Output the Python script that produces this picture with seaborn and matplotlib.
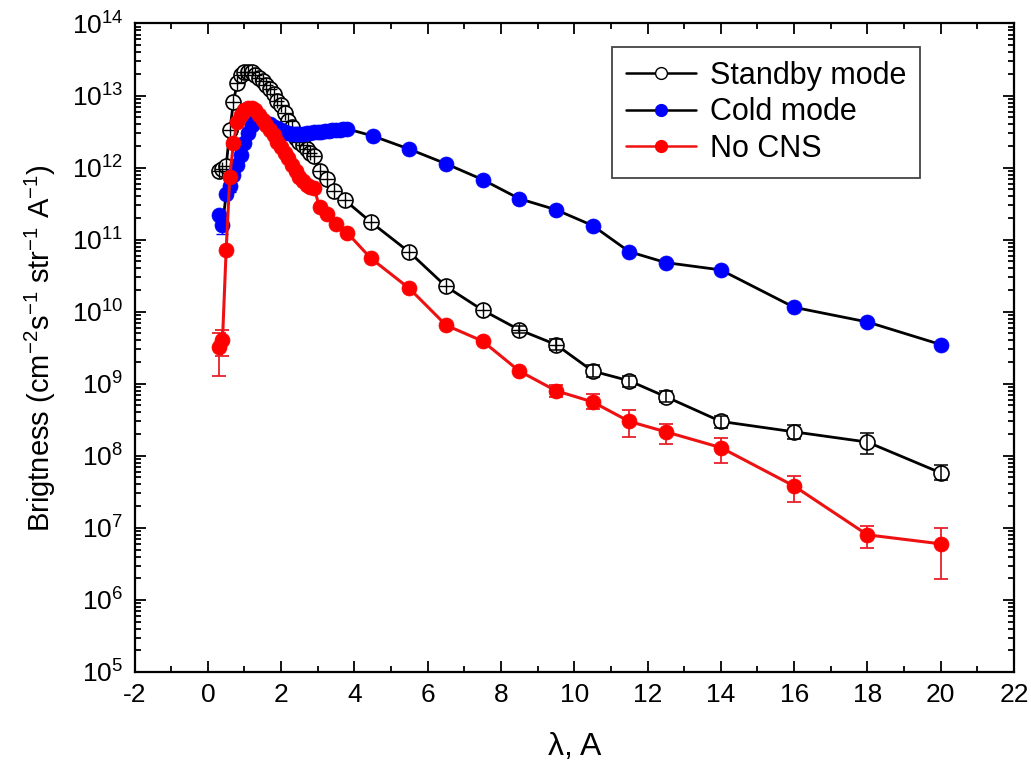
import numpy as np
import pandas as pd
import matplotlib
matplotlib.use("Agg")
import matplotlib.pyplot as plt
import seaborn as sns
from matplotlib.ticker import LogLocator, MultipleLocator, NullFormatter
from matplotlib.lines import Line2D

# ---------------- data ----------------
standby_x = [0.3, 0.4, 0.5, 0.6, 0.7, 0.8, 0.9, 1.0, 1.1, 1.2, 1.3, 1.4, 1.5, 1.6, 1.7,
             1.8, 1.9, 2.0, 2.1, 2.2, 2.3, 2.4, 2.5, 2.6, 2.7, 2.8, 2.9,
             3.05, 3.25, 3.45, 3.75, 4.45, 5.5, 6.5, 7.5, 8.5, 9.5, 10.5, 11.5, 12.5,
             14, 16, 18, 20]
standby_y = [9.1e11, 9.5e11, 1.05e12, 3.3e12, 8.2e12, 1.5e13, 1.9e13, 2.1e13, 2.15e13, 2.1e13,
             1.95e13, 1.75e13, 1.6e13, 1.4e13, 1.25e13, 1.05e13, 8.5e12, 7.3e12, 5.8e12, 4.5e12,
             3.6e12, 2.6e12, 2.3e12, 2.05e12, 1.8e12, 1.6e12, 1.45e12,
             9.1e11, 6.9e11, 4.8e11, 3.5e11, 1.75e11, 6.7e10, 2.24e10, 1.05e10, 5.6e9, 3.5e9,
             1.5e9, 1.1e9, 6.6e8, 3.0e8, 2.15e8, 1.55e8, 5.8e7]
standby_err_x = [8.5, 9.5, 10.5, 11.5, 12.5, 14, 16, 18, 20]
standby_err_y = [5.6e9, 3.5e9, 1.5e9, 1.1e9, 6.6e8, 3.0e8, 2.15e8, 1.55e8, 5.8e7]
standby_err_lo = [5.0e9, 2.9e9, 1.25e9, 0.9e9, 5.5e8, 2.45e8, 1.7e8, 1.05e8, 4.6e7]
standby_err_hi = [6.3e9, 4.2e9, 1.8e9, 1.3e9, 7.9e8, 3.6e8, 2.7e8, 2.05e8, 7.4e7]

cold_x = [0.3, 0.4, 0.5, 0.6, 0.7, 0.8, 0.9, 1.0, 1.1, 1.2, 1.3, 1.4, 1.5, 1.6, 1.7,
          1.8, 1.9, 2.0, 2.1, 2.2, 2.3, 2.4, 2.5, 2.6, 2.7, 2.8, 2.9, 3.0, 3.1, 3.2,
          3.3, 3.4, 3.5, 3.6, 3.7, 3.8, 4.5, 5.5, 6.5, 7.5, 8.5, 9.5, 10.5, 11.5, 12.5,
          14, 16, 18, 20]
cold_y = [2.2e11, 1.6e11, 4.3e11, 5.6e11, 8.0e11, 1.1e12, 1.5e12, 2.2e12, 3.0e12, 3.9e12,
          4.4e12, 4.5e12, 4.4e12, 4.2e12, 4.0e12, 3.7e12, 3.5e12, 3.3e12, 3.1e12, 3.0e12,
          2.95e12, 2.9e12, 2.9e12, 2.95e12, 3.0e12, 3.05e12, 3.1e12, 3.1e12, 3.15e12, 3.2e12,
          3.25e12, 3.3e12, 3.3e12, 3.35e12, 3.4e12, 3.45e12, 2.75e12, 1.8e12, 1.13e12, 6.8e11,
          3.7e11, 2.6e11, 1.57e11, 6.8e10, 4.8e10, 3.8e10, 1.15e10, 7.2e9, 3.5e9]
cold_err_x = [0.4, 0.6]
cold_err_y = [1.6e11, 5.6e11]
cold_err_lo = [1.2e11, 4.6e11]
cold_err_hi = [2.2e11, 6.6e11]

nocns_x = [0.3, 0.4, 0.5, 0.6, 0.7, 0.8, 0.9, 1.0, 1.1, 1.2, 1.3, 1.4, 1.5, 1.6, 1.7,
           1.8, 1.9, 2.0, 2.1, 2.2, 2.3, 2.4, 2.5, 2.6, 2.7, 2.8, 2.9,
           3.05, 3.25, 3.5, 3.8, 4.45, 5.5, 6.5, 7.5, 8.5, 9.5, 10.5, 11.5, 12.5,
           14, 16, 18, 20]
nocns_y = [3.2e9, 4.0e9, 7.2e10, 7.5e11, 2.2e12, 4.3e12, 5.4e12, 6.2e12, 6.8e12, 6.8e12,
           6.2e12, 5.4e12, 4.6e12, 3.9e12, 3.3e12, 2.8e12, 2.3e12, 1.9e12, 1.6e12, 1.35e12,
           1.1e12, 9.0e11, 7.5e11, 6.5e11, 5.8e11, 5.4e11, 5.2e11,
           2.8e11, 2.3e11, 1.65e11, 1.25e11, 5.5e10, 2.1e10, 6.5e9, 3.9e9, 1.5e9, 8.0e8,
           5.6e8, 3.0e8, 2.15e8, 1.3e8, 3.8e7, 8.0e6, 6.0e6]
nocns_err_x = [0.3, 0.4, 9.5, 10.5, 11.5, 12.5, 14, 16, 18, 20]
nocns_err_y = [3.2e9, 4.0e9, 8.0e8, 5.6e8, 3.0e8, 2.15e8, 1.3e8, 3.8e7, 8.0e6, 6.0e6]
nocns_err_lo = [1.3e9, 2.4e9, 6.6e8, 4.4e8, 1.8e8, 1.45e8, 8.0e7, 2.3e7, 5.3e6, 1.95e6]
nocns_err_hi = [5.0e9, 5.6e9, 9.6e8, 7.2e8, 4.3e8, 2.8e8, 1.75e8, 5.3e7, 1.05e7, 1.0e7]

series_names = ["Standby mode", "Cold mode", "No CNS"]
x_ticks = list(range(-2, 23, 2))

# ---------------- style ----------------
sns.set_theme(style="ticks")
plt.rcParams["font.family"] = ["Liberation Sans Narrow", "Liberation Sans", "DejaVu Sans"]
plt.rcParams["mathtext.fontset"] = "custom"
plt.rcParams["mathtext.rm"] = "Liberation Sans"
plt.rcParams["mathtext.it"] = "Liberation Sans:italic"
for k in ["text.color", "axes.labelcolor", "xtick.color", "ytick.color", "axes.edgecolor"]:
    plt.rcParams[k] = "black"

fig = plt.figure(figsize=(10.31, 7.67), dpi=100)
ax = fig.add_axes([0.1305, 0.1239, 0.853, 0.8455])

df_sb = pd.DataFrame({"x": standby_x, "y": standby_y})
df_cold = pd.DataFrame({"x": cold_x, "y": cold_y})
df_no = pd.DataFrame({"x": nocns_x, "y": nocns_y})

ms = 10.8
# Standby mode: open circles, black line
sns.lineplot(data=df_sb, x="x", y="y", ax=ax, color="black", lw=2.0, marker="o",
             markersize=ms, markerfacecolor="white", markeredgecolor="black",
             markeredgewidth=1.2, estimator=None, sort=False, zorder=2, legend=False)
# cross inside the circles (tiny error bars)
small = df_sb[df_sb["x"] <= 9.5]
ax.scatter(small["x"], small["y"], marker="+", s=ms ** 2 * 0.95, color="black",
           linewidths=1.0, zorder=2.6)
ax.errorbar(standby_err_x, standby_err_y,
            yerr=[np.array(standby_err_y) - np.array(standby_err_lo),
                  np.array(standby_err_hi) - np.array(standby_err_y)],
            fmt="none", ecolor="black", elinewidth=1.1, capsize=4.7, capthick=1.1, zorder=2.7)

# Cold mode: blue markers, black line
ax.errorbar(cold_err_x, cold_err_y,
            yerr=[np.array(cold_err_y) - np.array(cold_err_lo),
                  np.array(cold_err_hi) - np.array(cold_err_y)],
            fmt="none", ecolor="blue", elinewidth=1.0, capsize=4.0, capthick=1.0, zorder=2.8)
sns.lineplot(data=df_cold, x="x", y="y", ax=ax, color="black", lw=2.0, marker="o",
             markersize=ms, markerfacecolor="blue", markeredgecolor="blue",
             markeredgewidth=0.5, estimator=None, sort=False, zorder=3, legend=False)

# No CNS: red
ax.errorbar(nocns_err_x, nocns_err_y,
            yerr=[np.array(nocns_err_y) - np.array(nocns_err_lo),
                  np.array(nocns_err_hi) - np.array(nocns_err_y)],
            fmt="none", ecolor="#e8202a", elinewidth=1.3, capsize=4.7, capthick=1.3, zorder=3.5)
sns.lineplot(data=df_no, x="x", y="y", ax=ax, color="#ee1111", lw=2.2, marker="o",
             markersize=ms, markerfacecolor="red", markeredgecolor="red",
             markeredgewidth=0.5, estimator=None, sort=False, zorder=4, legend=False)

# ---------------- axes ----------------
ax.set_yscale("log")
ax.set_ylim(1e5, 1e14)
ax.set_xlim(-2, 22)
ax.set_xticks(x_ticks)
ax.set_xticklabels([str(t) for t in x_ticks])
ax.xaxis.set_minor_locator(MultipleLocator(1))
ax.yaxis.set_major_locator(LogLocator(base=10, numticks=20))
ax.yaxis.set_minor_locator(LogLocator(base=10, subs=np.arange(2, 10), numticks=20))
ax.yaxis.set_minor_formatter(NullFormatter())

ax.tick_params(which="both", direction="in", top=True, right=True, width=1.3,
               labelsize=19, colors="black")
ax.tick_params(which="major", length=8, pad=8)
ax.tick_params(which="minor", length=4.5)
for s in ax.spines.values():
    s.set_linewidth(1.6)
    s.set_color("black")

ax.set_xlabel(r"λ, A", fontsize=23, labelpad=18)
ax.set_ylabel(r"Brigtness (cm$^{-2}$s$^{-1}$ str$^{-1}$ A$^{-1}$)", fontsize=21, labelpad=10)

handles = [
    Line2D([], [], color="black", lw=1.8, marker="o", markersize=8.5,
           markerfacecolor="white", markeredgecolor="black", markeredgewidth=1.0),
    Line2D([], [], color="black", lw=1.8, marker="o", markersize=8.5,
           markerfacecolor="blue", markeredgecolor="blue"),
    Line2D([], [], color="#ee1111", lw=1.8, marker="o", markersize=8.5,
           markerfacecolor="red", markeredgecolor="red"),
]
leg = ax.legend(handles, series_names, loc="upper left", bbox_to_anchor=(0.543, 0.964),
                prop={"family": ["Liberation Sans", "DejaVu Sans"], "size": 22},
                frameon=True, fancybox=False, edgecolor="#444444", framealpha=1,
                handlelength=2.3, handletextpad=0.45, borderpad=0.45, labelspacing=0.22,
                borderaxespad=0)
leg.get_frame().set_linewidth(1.3)

fig.savefig("out.png", dpi=100, facecolor="white")
